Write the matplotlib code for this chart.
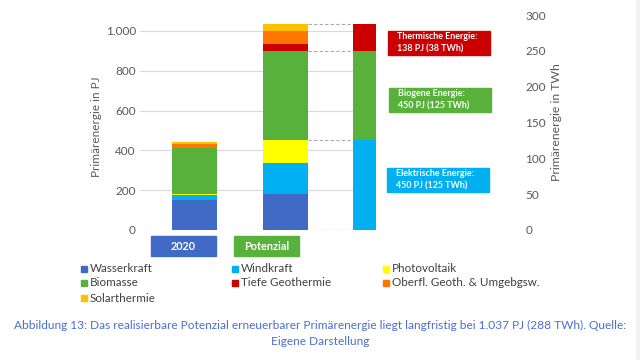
import numpy as np
import matplotlib.pyplot as plt
from matplotlib.patches import Rectangle
from matplotlib.ticker import FuncFormatter

plt.rcParams['font.family'] = ['Lato', 'DejaVu Sans']

categories = ['2020', 'Potenzial']
sources = ['Wasserkraft', 'Windkraft', 'Photovoltaik', 'Biomasse',
           'Tiefe Geothermie', 'Oberfl. Geoth. & Umgebgsw.', 'Solarthermie']
values_2020 = [151, 25, 5, 233, 0, 20, 7]
values_pot = [182, 156, 112, 450, 35, 67, 35]
source_colors = ['#4169C6', '#00B0F0', '#FFFF00', '#58B13A',
                 '#CC0000', '#FF7700', '#FFC000']
cat_colors = ['#4169C6', '#58B13A']

groups = ['Elektrische Energie:', 'Biogene Energie:', 'Thermische Energie:']
group_pj = [450, 450, 137]
group_text = ['450 PJ (125 TWh)', '450 PJ (125 TWh)', '138 PJ (38 TWh)']
group_colors = ['#00B0F0', '#58B13A', '#CC0000']

left_ticks = [0, 200, 400, 600, 800, 1000]
right_ticks = [0, 50, 100, 150, 200, 250, 300]
caption = ('Abbildung 13: Das realisierbare Potenzial erneuerbarer Primärenergie liegt '
           'langfristig bei 1.037 PJ (288 TWh). Quelle:\nEigene Darstellung')

W, H = 640, 360


def px(x, y):
    return x / W, 1 - y / H


fig = plt.figure(figsize=(6.4, 3.6), dpi=100)
fig.patch.set_facecolor('white')
fig.patches.append(Rectangle(px(636, 360), 4 / W, 1, transform=fig.transFigure,
                             color='#F2F2F2', zorder=0))

# main axes: x 140..376 px, y 15..230 px
ax = fig.add_axes([140 / W, 130 / H, 236 / W, 215 / H])
ax.set_ylim(0, 1080)
ax.set_xlim(-0.599, 1.995)
bw = 0.505

for i, vals in enumerate([values_2020, values_pot]):
    bottom = 0
    for v, c in zip(vals, source_colors):
        if v > 0:
            ax.bar(i, v, bw, bottom=bottom, color=c, zorder=3)
        bottom += v

bottom = 0
levels = [0]
for v, c in zip(group_pj, group_colors):
    ax.bar(2, v, bw, bottom=bottom, color=c, zorder=3)
    bottom += v
    levels.append(bottom)
for lv in levels:
    ax.plot([1 + bw / 2, 2 - bw / 2], [lv, lv], ls=(0, (3, 2)), color='#AAAAAA',
            lw=0.8, zorder=2)

ax.set_yticks(left_ticks)
ax.yaxis.set_major_formatter(FuncFormatter(lambda v, p: f'{int(v):,}'.replace(',', '.')))
ax.grid(axis='y', color='#D9D9D9', lw=0.8, zorder=0)
ax.set_xticks([])
for s in ax.spines.values():
    s.set_visible(False)
ax.tick_params(axis='y', length=0, pad=3, labelsize=8.5, labelcolor='#595959')

# right axis in TWh
ax_r = fig.add_axes([140 / W, 130 / H, 381 / W, 215 / H])
ax_r.patch.set_visible(False)
ax_r.set_ylim(0, 300)
ax_r.set_xticks([])
ax_r.set_yticks(right_ticks)
ax_r.yaxis.tick_right()
for s in ax_r.spines.values():
    s.set_visible(False)
ax_r.tick_params(axis='y', length=0, pad=3, labelsize=8.5, labelcolor='#595959')

fig.text(*px(96.5, 127), 'Primärenergie in PJ', rotation=90, ha='center', va='center',
         fontsize=8.5, color='#595959')
fig.text(*px(557, 122), 'Primärenergie in TWh', rotation=90, ha='center', va='center',
         fontsize=8.8, color='#595959')

# category boxes
for (x0, x1), name, c in zip([(151, 216), (234, 299)], categories, cat_colors):
    fig.patches.append(Rectangle(px(x0, 256), (x1 - x0) / W, 20 / H,
                                 transform=fig.transFigure, color=c))
    fig.text(*px((x0 + x1) / 2, 246), name, ha='center', va='center', color='white',
             fontsize=7.8, fontweight='bold')

# group label boxes
box_pos = [(387, 168), (389, 88), (388, 31)]
for (x0, y0), g, t, c in zip(box_pos, groups, group_text, group_colors):
    fig.patches.append(Rectangle(px(x0, y0 + 24), 102 / W, 24 / H,
                                 transform=fig.transFigure, color=c))
    fig.text(*px(x0 + 9, y0 + 12), g + '\n' + t, ha='left', va='center', color='white',
             fontsize=6.4, fontweight='bold', linespacing=1.5)

# legend
leg_x = [81, 232, 383]
leg_y = [269, 283, 298]
for k, (name, c) in enumerate(zip(sources, source_colors)):
    x, y = leg_x[k % 3], leg_y[k // 3]
    fig.patches.append(Rectangle(px(x, y + 3), 6 / W, 6 / H,
                                 transform=fig.transFigure, color=c))
    fig.text(*px(x + 9, y), name, ha='left', va='center', fontsize=8.4, color='#404040')

fig.text(*px(320, 333.5), caption, ha='center', va='center', fontsize=8.6,
         color='#4A6FD0', linespacing=1.45)

fig.savefig('out.png', dpi=100)
